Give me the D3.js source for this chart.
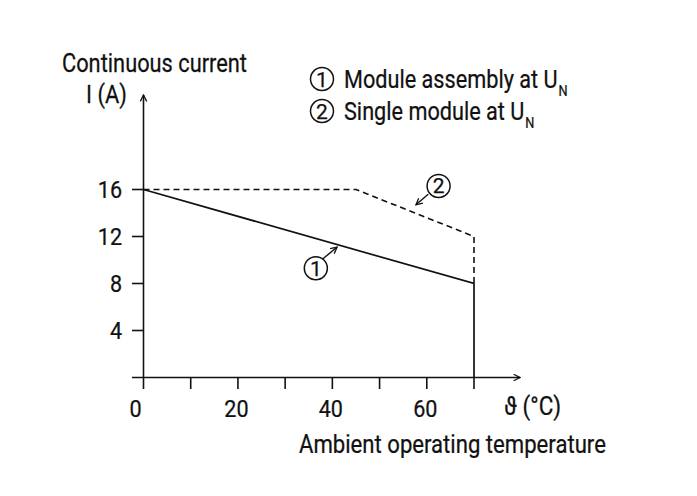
<!DOCTYPE html>
<html><head><meta charset="utf-8">
<script src="https://cdn.jsdelivr.net/npm/d3@7"></script>
<style>body{margin:0;background:#fff}svg{display:block}text{font-family:Roboto,"Liberation Sans",sans-serif;fill:#111;stroke:#111;stroke-width:0.25}</style>
</head><body>
<script>
const xTicks = [0,10,20,30,40,50,60,70];
const xTickLabels = ["0","20","40","60"];
const yTicks = [4,8,12,16];
const yTickLabels = ["4","8","12","16"];
const series1 = [[0,16],[70,8],[70,0]];          // ① module assembly (solid)
const series2 = [[0,16],[45,16],[70,12],[70,8]]; // ② single module (dashed)
const legendItems = ["Module assembly at U", "Single module at U"];
const annotations = [
  {label:"1", circle:[36.5,9.3], from:[38.0,10.1], to:[41,11.1]},
  {label:"2", circle:[62.5,16.3], from:[60.3,15.6], to:[57.7,14.7]}
];

const W=697,H=496;
const svg=d3.select("body").append("svg").attr("width",W).attr("height",H);
const x=d3.scaleLinear().domain([0,70]).range([143.5,474]);
const y=d3.scaleLinear().domain([0,16]).range([377.5,189.5]);
const ink="#111";

function txt(str,px,py,size,anchor,sx){
  sx=sx||0.86;
  return svg.append("text").attr("font-size",size)
    .attr("transform",`translate(${px},${py}) scale(${sx},1)`)
    .attr("text-anchor",anchor||"start").text(str);
}

svg.append("defs").append("marker").attr("id","ah").attr("viewBox","0 0 10 10")
  .attr("refX",9).attr("refY",5).attr("markerWidth",8).attr("markerHeight",8)
  .attr("markerUnits","userSpaceOnUse").attr("orient","auto")
  .append("path").attr("d","M1,1 L9,5 L1,9").attr("fill","none").attr("stroke",ink).attr("stroke-width",1.6);

// axes
svg.append("line").attr("x1",x(0)).attr("x2",x(0)).attr("y1",389).attr("y2",95)
  .attr("stroke",ink).attr("stroke-width",1.6).attr("marker-end","url(#ah)");
svg.append("line").attr("x1",132).attr("x2",520).attr("y1",y(0)).attr("y2",y(0))
  .attr("stroke",ink).attr("stroke-width",1.6).attr("marker-end","url(#ah)");

// x ticks
svg.selectAll(".xt").data(xTicks.slice(1)).enter().append("line")
  .attr("x1",d=>x(d)).attr("x2",d=>x(d)).attr("y1",y(0)).attr("y2",389)
  .attr("stroke",ink).attr("stroke-width",1.6);
xTickLabels.forEach(l=>{
  const v=+l;
  txt(l, x(v)-(v===0?8:1.5), 417, 24.5, "middle", 0.88);
});
// y ticks
svg.selectAll(".yt").data(yTicks).enter().append("line")
  .attr("x1",132).attr("x2",x(0)).attr("y1",d=>y(d)).attr("y2",d=>y(d))
  .attr("stroke",ink).attr("stroke-width",1.6);
yTickLabels.forEach(l=>{ txt(l,122,y(+l)+8.5,24.5,"end",0.88); });

// lines
const line=d3.line().x(d=>x(d[0])).y(d=>y(d[1]));
svg.append("path").datum(series2).attr("d",line).attr("fill","none")
  .attr("stroke",ink).attr("stroke-width",1.6).attr("stroke-dasharray","6,4");
svg.append("path").datum(series1).attr("d",line).attr("fill","none")
  .attr("stroke",ink).attr("stroke-width",1.7);

// annotations
function circNum(cx,cy,label,r){
  svg.append("circle").attr("cx",cx).attr("cy",cy).attr("r",r).attr("fill","none").attr("stroke",ink).attr("stroke-width",1.5);
  svg.append("text").attr("x",cx).attr("y",cy+7.5).attr("text-anchor","middle").attr("font-size",21).text(label);
}
annotations.forEach(a=>{
  circNum(x(a.circle[0]),y(a.circle[1]),a.label,11.5);
  svg.append("line").attr("x1",x(a.from[0])).attr("y1",y(a.from[1]))
    .attr("x2",x(a.to[0])).attr("y2",y(a.to[1])).attr("stroke",ink).attr("stroke-width",1.4)
    .attr("marker-end","url(#ah)");
});

// titles
txt("Continuous current",62,72,25.5,"start",0.855);
txt("I (A)",86,103,25.5,"start",0.86);
txt("\u03D1 (°C)",504,415,25,"start",0.9);
txt("Ambient operating temperature",299,453,25,"start",0.885);

// legend
legendItems.forEach((s,i)=>{
  const cy=79+i*32;
  circNum(322,cy,String(i+1),11.5);
  const sx=0.85;
  const t=txt(s,344,cy+9,25.5,"start",sx);
  const w=t.node().getComputedTextLength()*sx;
  svg.append("text").attr("font-size",15).attr("transform",`translate(${344+w+1},${cy+17}) scale(${sx},1)`).text("N");
});
</script>
</body></html>
